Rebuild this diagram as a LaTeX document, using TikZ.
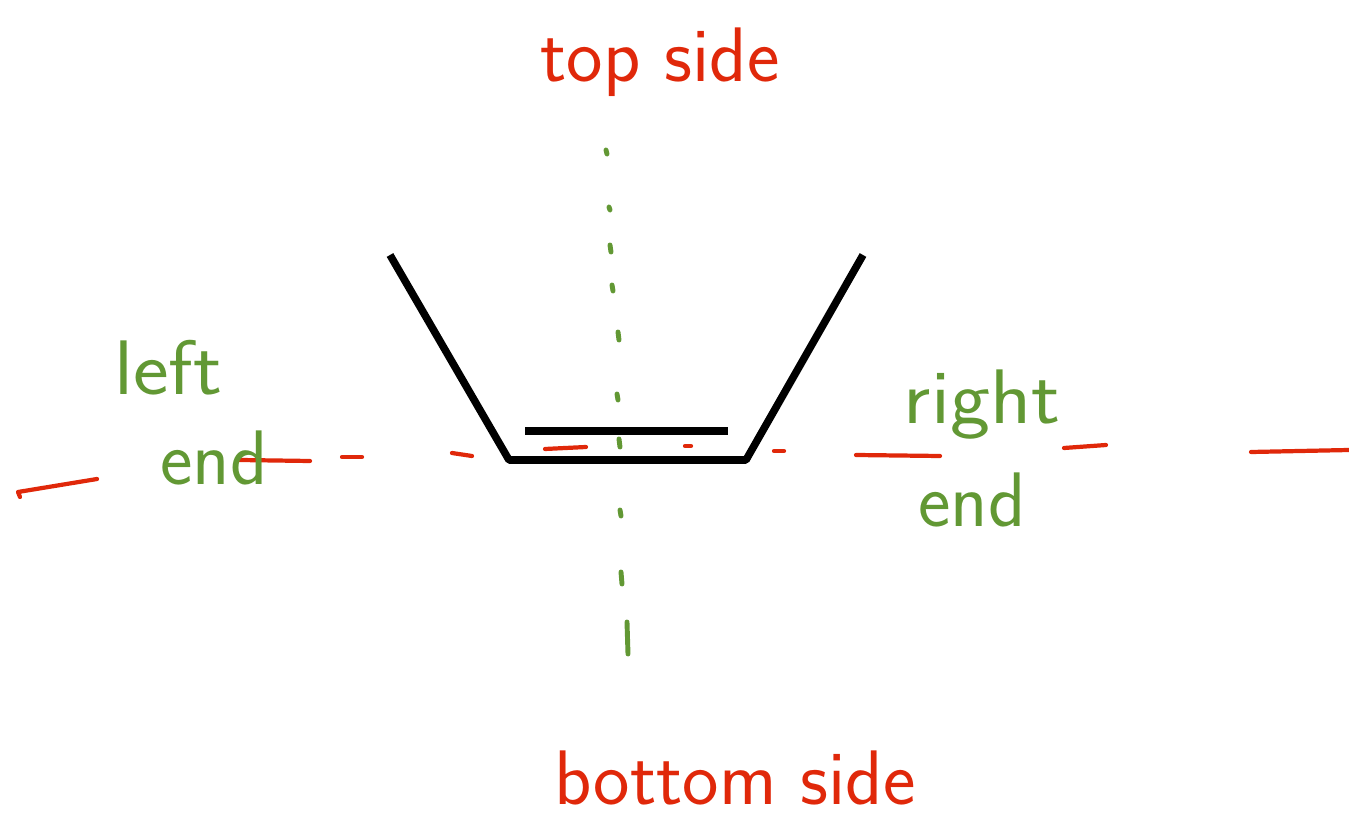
\documentclass[tikz,border=0pt]{standalone}
\usepackage{xcolor}
\usepackage{tikz}
\usetikzlibrary{positioning,calc}

\definecolor{penred}{RGB}{224,40,10}
\definecolor{pengreen}{RGB}{98,152,52}

\begin{document}
\begin{tikzpicture}[
  x=0.02cm, y=-0.02cm,
  line cap=round, line join=round,
  wall/.style={draw=black, line width=4.3pt, line cap=butt},
  redmark/.style={draw=penred, line width=2.4pt},
  greenmark/.style={draw=pengreen, line width=2.8pt},
  redtxt/.style={text=penred, font=\sffamily\fontsize{44}{48}\selectfont, inner sep=0pt},
  greentxt/.style={text=pengreen, font=\sffamily\fontsize{44}{48}\selectfont, inner sep=0pt}
]
\useasboundingbox (0,0) rectangle (1349,820);

% Trapezoid profile
\coordinate (tl) at (390,255);
\coordinate (bl) at (509,460);
\coordinate (br) at (746,460);
\coordinate (tr) at (863,255);
\draw[wall] (tl) -- (bl) -- (br) -- (tr);
\draw[wall] (525,431) -- (728,431);

% Vertical axis (green, dotted)
\foreach \xa/\ya/\len in {606/150/4, 609/207/3, 610/245/7, 612/285/6,
                          618/332/8, 617/394/6, 619/439/8, 620/510/6,
                          621/572/12, 627/622/32}
  \draw[greenmark] (\xa,\ya) -- ++(1,\len);

% Horizontal axis (red, dashed)
\draw[redmark] (20,497) -- (18,492) -- (97,479);
\foreach \xa/\ya/\xb/\yb in {240/460/310/461, 342/457/362/457,
                             452/453/472/456, 545/449/586/447, 685/446/691/446,
                             774/451/784/451, 856/455/940/456, 1064/448/1106/445,
                             1251/452/1349/450}
  \draw[redmark] (\xa,\ya) -- (\xb,\yb);

% Labels
\node[redtxt] (topside) at (660,62) {top side};
\node[redtxt] (bottomside) at (735,778) {bottom side};
\node[greentxt, xscale=1.1] (leftword) at (168,368) {left};
\node[greentxt] (leftend) at (214,458) {end};
\node[greentxt, xscale=1.1] (rightword) at (982,405) {right};
\node[greentxt] (rightend) at (972,500) {end};

\end{tikzpicture}
\end{document}
